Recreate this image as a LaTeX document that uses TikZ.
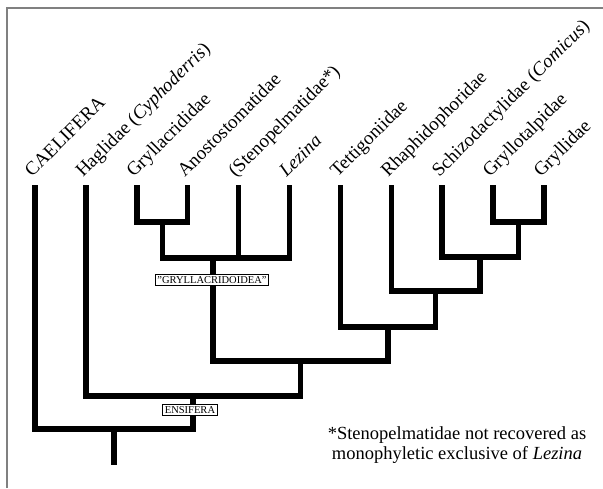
\documentclass[tikz,border=0pt]{standalone}
\usepackage{fontspec}
\setmainfont{Liberation Serif}
\usetikzlibrary{calc}

\tikzset{
	branch/.style = {line width = 5.5pt, line join = miter},
	taxon/.style = {rotate = 45, anchor = base west, inner sep = 0, font = \fontsize{19}{20}\selectfont},
	cladebox/.style = {draw, fill = white, line width = 1.1pt, inner sep = 2pt, font = \fontsize{10.5}{12}\selectfont}
}

\begin{document}
\begin{tikzpicture}[x = 1pt, y = -1pt]
\useasboundingbox (0, 0) rectangle (603, 488);
\draw [gray, line width = 1.5] (7, 488) |- (603, 8);
	\foreach \i/\n/\txt in {0/cael/CAELIFERA, 1/hagl/{Haglidae (\textit{Cyphoderris})}, 2/gryl/Gryllacrididae, 3/anos/Anostostomatidae, 4/sten/{(Stenopelmatidae*)}, 5/lezi/{\textit{Lezina}}, 6/tett/Tettigoniidae, 7/rhap/Rhaphidophoridae, 8/schi/{Schizodactylidae (\textit{Comicus})}, 9/gtal/Gryllotalpidae, 10/gryd/Gryllidae}{
		\coordinate (\n) at (35 + 50.9*\i, 185);
		\node [taxon] (lab-\n) at ($(\n) + (-3, -7)$) {\txt};
	};
\coordinate (ga) at (162.5, 222);
\coordinate (gsup) at (213, 258);
\coordinate (gg) at (518.5, 222);
\coordinate (sg) at (480, 257);
\coordinate (rs) at (435.5, 291);
\coordinate (tr) at (388, 327);
\coordinate (core) at (300.5, 361);
\coordinate (ens) at (193, 396);
\coordinate (orth) at (114, 429);
\coordinate (root) at (114, 465);
\draw [branch] (gryl) |- (ga) -| (anos);
\draw [branch] (ga) |- (gsup) -| (lezi);
\draw [branch] (sten) -- (sten |- gsup);
\draw [branch] (gtal) |- (gg) -| (gryd);
\draw [branch] (schi) |- (sg) -| (gg);
\draw [branch] (rhap) |- (rs) -| (sg);
\draw [branch] (tett) |- (tr) -| (rs);
\draw [branch] (gsup) |- (core) -| (tr);
\draw [branch] (hagl) |- (ens) -| (core);
\draw [branch] (cael) |- (orth) -| (ens);
\draw [branch] (orth) -- (root);
\node [cladebox] (grylloidea) at (212, 280) {"GRYLLACRIDOIDEA"};
\node [cladebox] (ensifera) at (190, 410) {ENSIFERA};
\node [align = center, font = \fontsize{18.5}{20}\selectfont] (note) at (457, 445) {*Stenopelmatidae not recovered as\\monophyletic exclusive of \textit{Lezina}};
\end{tikzpicture}
\end{document}
